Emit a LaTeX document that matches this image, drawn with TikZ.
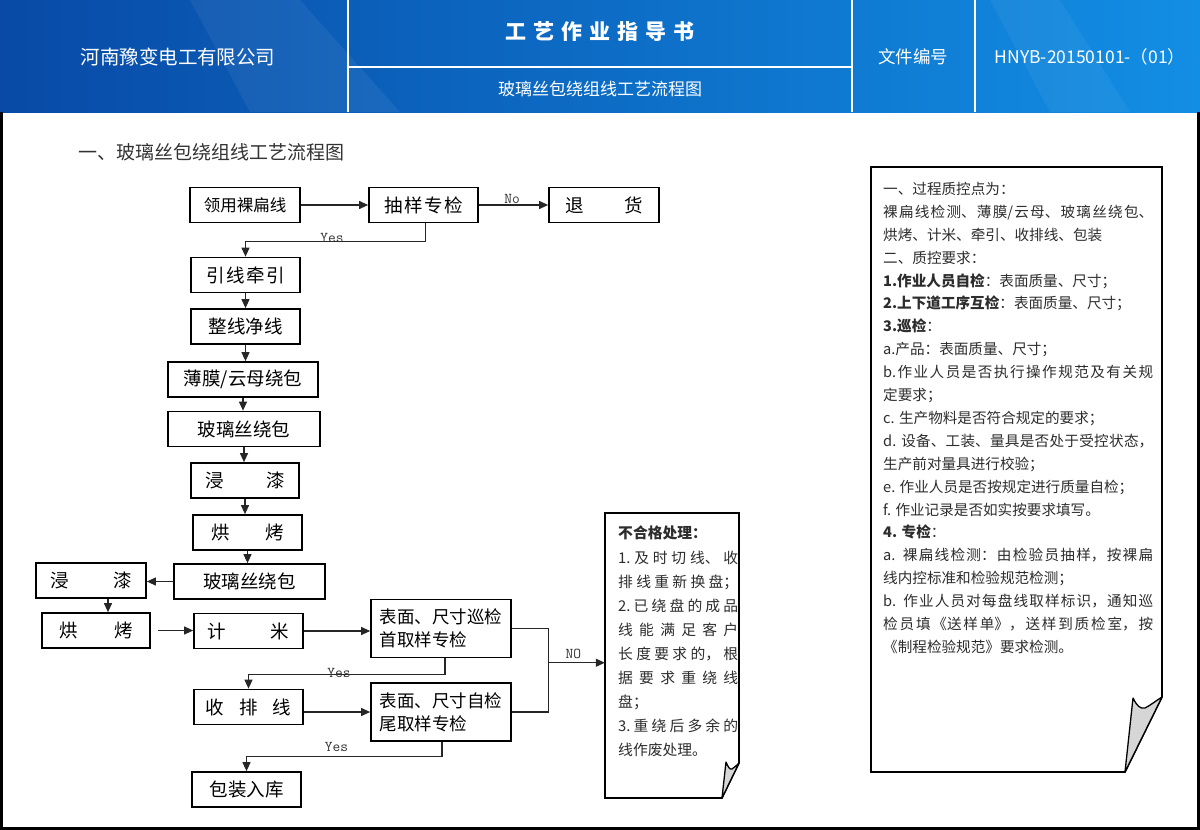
\documentclass[tikz,border=0pt]{standalone}
\usepackage{fontspec}
\setmainfont{Noto Sans CJK SC}
\usetikzlibrary{arrows.meta,positioning,calc}
\XeTeXlinebreaklocale "zh"
\XeTeXlinebreakskip=0pt plus 2pt
\tolerance=9999
\hbadness=10000
\definecolor{hdleft}{RGB}{8,74,166}
\definecolor{hdright}{RGB}{18,142,228}
\definecolor{ink}{RGB}{45,45,45}
\definecolor{flapgray}{RGB}{214,214,214}
\tikzset{
  flow/.style={
    draw=black, line width=1.7pt, fill=white, minimum height=35,
    inner sep=0pt, align=center, font=\fontsize{18.5}{22}\selectfont
  },
  chk/.style={flow, align=left, minimum height=58, minimum width=140,
    font=\fontsize{17.5}{23}\selectfont},
  arr/.style={-{Triangle[length=9pt,width=8pt]}, draw=black!85, line width=1.1pt},
  link/.style={draw=black!85, line width=1.1pt},
  ynlbl/.style={font=\ttfamily\fontsize{15}{15}\selectfont, text=black!80, inner sep=0pt},
  hdtxt/.style={text=white, inner sep=0pt},
  hdline/.style={draw=white, line width=1.2pt},
  page/.style={draw=black, line width=1.6pt, fill=white, line join=miter},
  flap/.style={draw=black, line width=1.3pt, fill=flapgray, line join=round},
  notetxt/.style={anchor=north west, inner sep=0pt, align=justify, text=ink}
}

\begin{document}
\begin{tikzpicture}[x=1pt, y=-1pt]
  \useasboundingbox (0,0) rectangle (1200,830);
  % header band
  \shade[left color=hdleft, right color=hdright] (0,0) rectangle (1200,112);
  \fill[white, opacity=0.06] (190,0) -- (300,0) -- (400,112) -- (250,112) -- cycle;
  \fill[white, opacity=0.05] (990,0) -- (1060,0) -- (1130,112) -- (1050,112) -- cycle;
  \draw[hdline] (348,0) -- (348,112);
  \draw[hdline] (852,0) -- (852,112);
  \draw[hdline] (975,0) -- (975,112);
  \draw[hdline] (348,67) -- (852,67);
  \node[hdtxt, font=\fontsize{19.5}{20}\selectfont] (company) at (178,57) {河南豫变电工有限公司};
  \node[hdtxt, font=\fontsize{21}{22}\selectfont\bfseries] (doctitle) at (600,32)
    {工\hspace{7pt}艺\hspace{7pt}作\hspace{7pt}业\hspace{7pt}指\hspace{7pt}导\hspace{7pt}书};
  \node[hdtxt, font=\fontsize{17}{18}\selectfont] (subtitle) at (600,89) {玻璃丝包绕组线工艺流程图};
  \node[hdtxt, font=\fontsize{17.5}{18}\selectfont] (docno) at (913,57) {文件编号};
  \node[hdtxt, font=\fontsize{17.5}{18}\selectfont] (docnum) at (1090,57) {HNYB-20150101-（01）};
  % frame
  \draw[line width=3pt] (1.5,112) -- (1.5,828.5) -- (1198.5,828.5) -- (1198.5,112);
  \node[anchor=west, inner sep=0pt, text=black!80, font=\fontsize{19}{20}\selectfont] (sect) at (78,152)
    {一、玻璃丝包绕组线工艺流程图};

  % flow boxes
  \node[flow, minimum width=110, font=\fontsize{16.5}{20}\selectfont] (lingyong) at (245,205) {领用裸扁线};
  \node[flow, minimum width=109] (chouyang) at (423.5,205) {抽\hspace{1.5pt}样\hspace{1.5pt}专\hspace{1.5pt}检};
  \node[flow, minimum width=110] (tuihuo) at (604,205) {退\hspace{2.2em}货};
  \node[flow, minimum width=109] (qianyin) at (245.5,275) {引\hspace{1.5pt}线\hspace{1.5pt}牵\hspace{1.5pt}引};
  \node[flow, minimum width=109] (zhengxian) at (245.5,326.5) {整线净线};
  \node[flow, minimum width=150] (bomo) at (243,379.5) {薄膜/云母绕包};
  \node[flow, minimum width=152] (boli1) at (244,429) {玻璃丝绕包};
  \node[flow, minimum width=108] (jinqi1) at (245,480.5) {浸\hspace{2.3em}漆};
  \node[flow, minimum width=109] (hongkao1) at (247.5,532.5) {烘\hspace{1.9em}烤};
  \node[flow, minimum width=151] (boli2) at (249.5,581.5) {玻璃丝绕包};
  \node[flow, minimum width=110] (jinqi2) at (91,580.5) {浸\hspace{2.4em}漆};
  \node[flow, minimum width=108] (hongkao2) at (96,630.5) {烘\hspace{2em}烤};
  \node[flow, minimum width=109] (jimi) at (248.5,631) {计\hspace{2.4em}米};
  \node[chk] (xunjian) at (441,628.5) {表面、尺寸巡检\\首取样专检};
  \node[flow, minimum width=109] (shoupai) at (248.5,707) {收\hspace{0.8em}排\hspace{0.8em}线};
  \node[chk] (zijian) at (441,712) {表面、尺寸自检\\尾取样专检};
  \node[flow, minimum width=109] (baozhuang) at (246.5,789.5) {包装入库};

  % connectors
  \draw[arr] (lingyong) -- (chouyang);
  \draw[arr] (chouyang) -- node[ynlbl, above, pos=0.48, yshift=0.5pt] {No} (tuihuo);
  \draw[arr] ([xshift=2pt]chouyang.south) -- ++(0,18)
    -| node[ynlbl, anchor=base, pos=0.26, yshift=-1pt] {Yes} (qianyin.north);
  \draw[arr] (qianyin.south) -- (qianyin.south |- zhengxian.north);
  \draw[arr] (zhengxian.south) -- (zhengxian.south |- bomo.north);
  \draw[arr] (bomo.south) -- (bomo.south |- boli1.north);
  \draw[arr] (boli1.south) -- (boli1.south |- jinqi1.north);
  \draw[arr] (jinqi1.south) -- (jinqi1.south |- hongkao1.north);
  \draw[arr] (hongkao1.south) -- (hongkao1.south |- boli2.north);
  \draw[arr] (boli2.west) -- (boli2.west -| jinqi2.east);
  \draw[arr] ([xshift=17pt]jinqi2.south) -- ([xshift=17pt]jinqi2.south |- hongkao2.north);
  \draw[arr] ([xshift=7pt]hongkao2.east) -- (hongkao2.east -| jimi.west);
  \draw[arr] (jimi.east) -- (jimi.east -| xunjian.west);
  \draw[arr] ([xshift=4pt]xunjian.south) -- ++(0,16)
    -| node[ynlbl, anchor=base, pos=0.27, yshift=-3pt] {Yes} (shoupai.north);
  \draw[arr] (shoupai.east |- zijian.west) -- (zijian.west);
  \draw[arr] ([xshift=1pt]zijian.south) -- ++(0,15)
    -| node[ynlbl, anchor=base, pos=0.27, yshift=5pt] {Yes} (baozhuang.north);
  \draw[link] (xunjian.east) -- ++(37,0) coordinate (nojoin) |- (zijian.east);
  \coordinate (nomid) at ($(nojoin)!0.41!(nojoin |- zijian.east)$);

  % reject note
  \node[minimum width=134, minimum height=285, inner sep=0pt] (buhege) at (672,655.5) {};
  \draw[page] (605,513) -- (739,513) -- (739,763) -- (722,798) -- (605,798) -- cycle;
  \filldraw[flap] (726,762) .. controls (728,767) and (730,770) .. (732,769)
    .. controls (735,767) and (737,765) .. (739,763) -- (722,798) -- cycle;
  \node[notetxt, text width=120, font=\fontsize{14.8}{24.1}\selectfont] (buhegetext) at (618,526) {%
    \textbf{不合格处理：}\\
    1.及时切线、收\linebreak
    排线重新换盘；\linebreak
    2.已绕盘的成品\linebreak
    线能满足客户\linebreak
    长度要求的，根\linebreak
    据要求重绕线\linebreak
    盘；\\
    3.重绕后多余的\linebreak
    线作废处理。};
  \draw[arr] (nomid) -- node[ynlbl, anchor=base, pos=0.44, yshift=4pt] {NO} (nomid -| buhege.west);

  % quality control note
  \draw[page] (871,167) -- (1162,167) -- (1162,697) -- (1125,772) -- (871,772) -- cycle;
  \filldraw[flap] (1133,698) .. controls (1137,706) and (1140,709) .. (1145,708)
    .. controls (1151,705) and (1157,700) .. (1162,697) -- (1125,772) -- cycle;
  \node[notetxt, text width=270, font=\fontsize{14.6}{22.9}\selectfont] (qcnote) at (883,182) {%
    一、过程质控点为：\\
    裸扁线检测、薄膜/云母、玻璃丝绕包、\linebreak
    烘烤、计米、牵引、收排线、包装\\
    二、质控要求：\\
    \textbf{1.作业人员自检}：表面质量、尺寸；\\
    \textbf{2.上下道工序互检}：表面质量、尺寸；\\
    \textbf{3.巡检}：\\
    a.产品：表面质量、尺寸；\\
    b.作业人员是否执行操作规范及有关规\linebreak
    定要求；\\
    c. 生产物料是否符合规定的要求；\\
    d. 设备、工装、量具是否处于受控状态，\linebreak
    生产前对量具进行校验；\\
    e. 作业人员是否按规定进行质量自检；\\
    f. 作业记录是否如实按要求填写。\\
    \textbf{4. 专检}：\\
    a. 裸扁线检测：由检验员抽样，按裸扁\linebreak
    线内控标准和检验规范检测；\\
    b. 作业人员对每盘线取样标识，通知巡\linebreak
    检员填《送样单》，送样到质检室，按\linebreak
    《制程检验规范》要求检测。};
\end{tikzpicture}
\end{document}
